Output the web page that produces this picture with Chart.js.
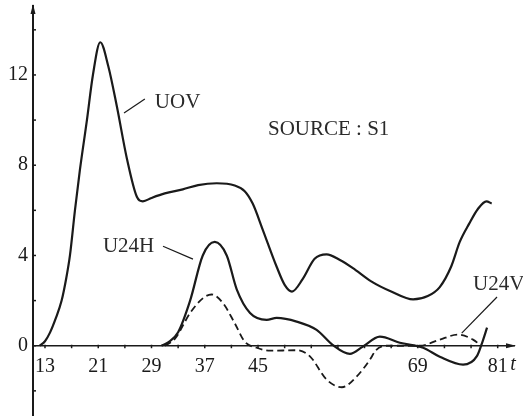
<!DOCTYPE html>
<html>
<head>
<meta charset="utf-8">
<script src="https://cdn.jsdelivr.net/npm/chart.js@4/dist/chart.umd.min.js"></script>
<style>
html,body{margin:0;padding:0;background:#fff;}
#wrap{width:523px;height:416px;}
</style>
</head>
<body>
<div id="wrap"><canvas id="c" width="523" height="416"></canvas></div>
<script>
// ---- data ----
const xTickLabels = [13, 21, 29, 37, 45, 69, 81];
const yTickLabels = [0, 4, 8, 12];

const uovT   = [12.2, 13, 13.75, 14.6, 15.5, 16.2, 16.75, 17.5, 18.25, 19.3, 20.2, 21.3, 22.5, 23.8, 25.3, 26.8, 27.7, 29, 31, 33.7, 36, 38.8, 41.5, 43, 44.2, 45.7, 47.8, 49, 50.1, 51.7, 53.5, 55.3, 57.3, 59.2, 62, 65, 68.3, 70.5, 72.3, 74, 75.3, 76.7, 78, 79.3, 80.1];
const uovVal = [0, 0.2, 0.58, 1.2, 2.0, 3.0, 4.0, 6.0, 7.8, 10.0, 12.0, 13.45, 12.4, 10.6, 8.3, 6.6, 6.4, 6.55, 6.75, 6.93, 7.12, 7.2, 7.1, 6.85, 6.3, 5.15, 3.5, 2.7, 2.4, 2.95, 3.85, 4.05, 3.8, 3.45, 2.85, 2.4, 2.05, 2.2, 2.6, 3.5, 4.6, 5.4, 6.05, 6.4, 6.3];

const u24hT   = [30.5, 31.5, 33, 34.8, 36.7, 38.5, 40.3, 41.8, 43.8, 46.3, 47.8, 50.8, 53.8, 56.2, 58.8, 60.7, 63.3, 66.3, 69.8, 72.3, 75.8, 77.9, 78.8, 79.4];
const u24hVal = [0, 0.15, 0.6, 2.0, 4.0, 4.6, 4.0, 2.5, 1.45, 1.15, 1.23, 1.07, 0.7, 0.04, -0.36, -0.05, 0.4, 0.13, -0.09, -0.49, -0.84, -0.45, 0.25, 0.8];

const u24vT   = [31, 32.5, 34.8, 36.7, 38, 39.7, 41.5, 43, 44.8, 46.8, 50.8, 52.8, 55.3, 57.6, 59.8, 61.8, 62.7, 64.3, 69.3, 72.3, 75, 77.3, 78.5];
const u24vVal = [0, 0.3, 1.45, 2.1, 2.27, 1.9, 1.0, 0.18, -0.09, -0.22, -0.2, -0.47, -1.5, -1.84, -1.37, -0.62, -0.2, 0, 0, 0.27, 0.49, 0.27, 0.0];

const toPts = (t, v) => t.map((x, i) => ({x: x, y: v[i]}));

const INK = '#1a1a1a';
const SERIF = '"Liberation Serif", "DejaVu Serif", serif';

// annotations in data coordinates
const notes = [
  {text: 'UOV', x: 29.5, y: 10.55, line: [24.87, 10.31, 28.0, 10.93]},
  {text: 'SOURCE : S1', x: 46.5, y: 9.34},
  {text: 'U24H', x: 21.7, y: 4.15, line: [30.73, 4.41, 35.23, 3.84]},
  {text: 'U24V', x: 77.3, y: 2.47, line: [80.9, 2.16, 75.6, 0.56]}
];

const axesPlugin = {
  id: 'axesPlugin',
  afterDatasetsDraw(chart) {
    const ctx = chart.ctx;
    const xs = chart.scales.x, ys = chart.scales.y;
    const ca = chart.chartArea;
    const X = v => xs.getPixelForValue(v), Y = v => ys.getPixelForValue(v);
    const x0 = X(xs.min), y0 = Y(0);
    ctx.save();
    ctx.strokeStyle = INK; ctx.fillStyle = INK;
    // y axis
    ctx.lineWidth = 2;
    ctx.beginPath(); ctx.moveTo(x0, ca.top); ctx.lineTo(x0, 416); ctx.stroke();
    ctx.beginPath(); ctx.moveTo(x0, ca.top - 1); ctx.lineTo(x0 - 2.5, ca.top + 9); ctx.lineTo(x0 + 2.5, ca.top + 9); ctx.closePath(); ctx.fill();
    // x axis
    ctx.lineWidth = 1.6;
    ctx.beginPath(); ctx.moveTo(x0, y0); ctx.lineTo(ca.right, y0); ctx.stroke();
    ctx.beginPath(); ctx.moveTo(ca.right + 1, y0); ctx.lineTo(ca.right - 9, y0 - 2.5); ctx.lineTo(ca.right - 9, y0 + 2.5); ctx.closePath(); ctx.fill();
    // small ticks
    ctx.lineWidth = 1.5;
    for (let t = 13; t <= 81; t += 4) {
      ctx.beginPath(); ctx.moveTo(X(t), y0 - 1); ctx.lineTo(X(t), y0 + 2.5); ctx.stroke();
    }
    for (let v = -2; v <= 14; v += 2) {
      ctx.beginPath(); ctx.moveTo(x0, Y(v)); ctx.lineTo(x0 + 3, Y(v)); ctx.stroke();
    }
    // tick labels
    ctx.font = '20px ' + SERIF;
    ctx.textBaseline = 'alphabetic';
    ctx.textAlign = 'center';
    xTickLabels.forEach(t => ctx.fillText(String(t), X(t), y0 + 26));
    ctx.textAlign = 'right';
    ctx.textBaseline = 'middle';
    yTickLabels.forEach(v => ctx.fillText(String(v), x0 - 5, Y(v)));
    // axis variable
    ctx.font = 'italic 20px ' + SERIF;
    ctx.textAlign = 'center';
    ctx.fillText('t', X(83.3), Y(-0.86));
    // annotations
    ctx.font = '21px ' + SERIF;
    ctx.textAlign = 'left';
    ctx.textBaseline = 'alphabetic';
    ctx.fillStyle = '#2a2a2a';
    notes.forEach(n => {
      ctx.fillText(n.text, X(n.x), Y(n.y));
      if (n.line) {
        ctx.lineWidth = 1.2;
        ctx.beginPath(); ctx.moveTo(X(n.line[0]), Y(n.line[1])); ctx.lineTo(X(n.line[2]), Y(n.line[3])); ctx.stroke();
      }
    });
    ctx.restore();
  }
};

const lineStyle = {pointRadius: 0, cubicInterpolationMode: 'monotone', fill: false, borderColor: INK};

new Chart(document.getElementById('c'), {
  type: 'line',
  data: {
    datasets: [
      Object.assign({label: 'UOV', data: toPts(uovT, uovVal), borderWidth: 2.2}, lineStyle),
      Object.assign({label: 'U24H', data: toPts(u24hT, u24hVal), borderWidth: 2.2}, lineStyle),
      Object.assign({label: 'U24V', data: toPts(u24vT, u24vVal), borderWidth: 1.8, borderDash: [7, 4]}, lineStyle)
    ]
  },
  options: {
    responsive: false,
    animation: false,
    devicePixelRatio: 1,
    layout: {padding: {left: 33, right: 8, top: 5, bottom: 1}},
    plugins: {legend: {display: false}, tooltip: {enabled: false}},
    scales: {
      x: {type: 'linear', min: 11.2, max: 83.6, display: false},
      y: {type: 'linear', min: -3.07, max: 15.1, display: false}
    }
  },
  plugins: [axesPlugin]
});
</script>
</body>
</html>
